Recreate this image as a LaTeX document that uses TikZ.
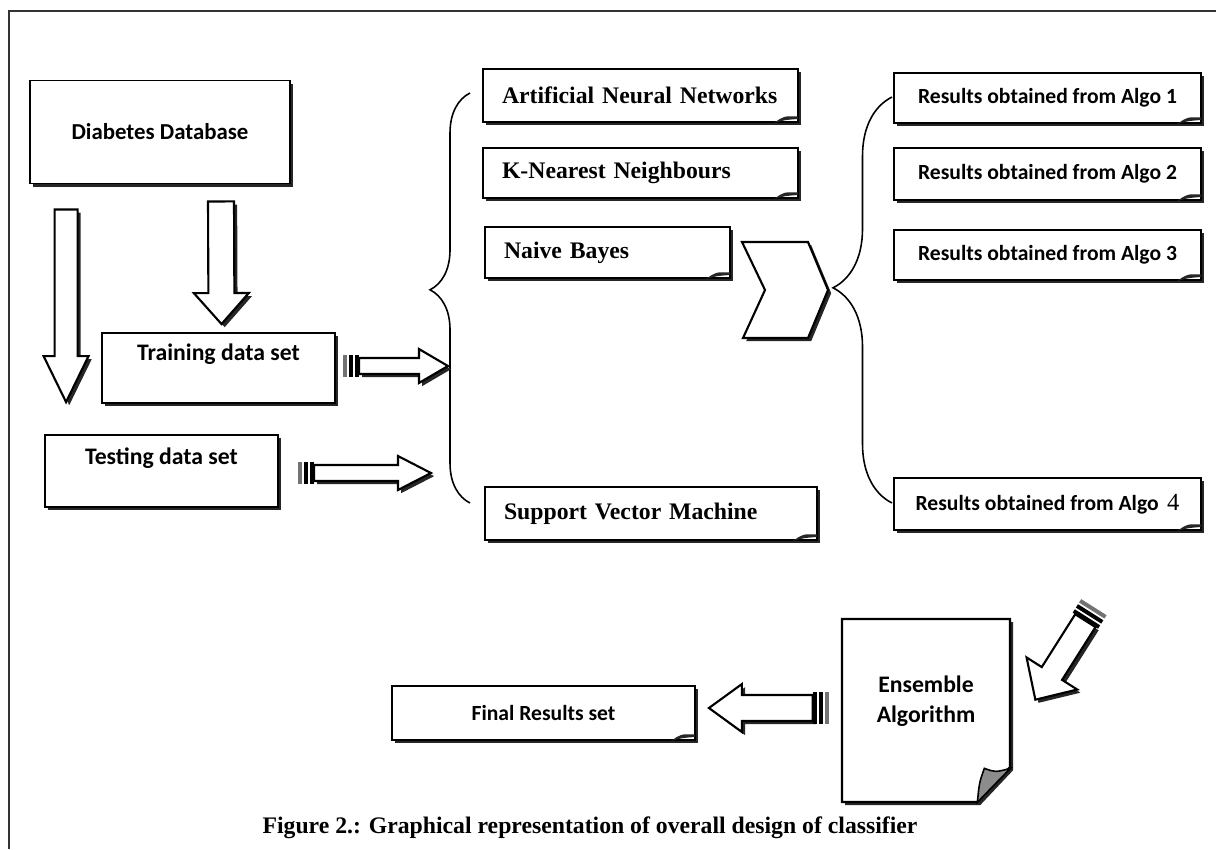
\documentclass[tikz,border=0pt]{standalone}
\usepackage{fontspec}
\setmainfont{Liberation Serif}
\newfontfamily\calibri{Carlito}
\usetikzlibrary{calc}
\usetikzlibrary{shadows}
\usetikzlibrary{decorations.pathreplacing}

\tikzset{
 shad/.style={drop shadow={shadow xshift=1.8pt, shadow yshift=-1.8pt, fill=black!85, opacity=1}},
 cbox/.style={draw, line width=1.1pt, fill=white, shad, font=\calibri\bfseries\fontsize{13.5}{16}\selectfont},
 algobox/.style={draw, line width=1.1pt, fill=white, shad, inner xsep=0.38cm, align=left, font=\bfseries\fontsize{13.5}{16}\selectfont},
 resbox/.style={cbox, font=\calibri\bfseries\fontsize{12.3}{15}\selectfont, minimum width=6.15cm},
 pagebox/.style={align=center, font=\calibri\bfseries\fontsize{13.5}{17}\selectfont},
 arrowbody/.style={draw, line width=1.2pt, fill=white, shad},
 curly/.style={decorate, decoration={brace, amplitude=#1, aspect=0.52}, line width=0.9pt},
}

% hollow block arrow: tail, tip, shaft half width, head half width, head length
\newcommand{\blockarrow}[5]{%
 \coordinate (ba-c) at ($(#2)!#5!(#1)$);
 \filldraw[arrowbody] ($(#1)!#3!90:(#2)$) -- ($(ba-c)!#3!90:(#2)$) -- ($(ba-c)!#4!90:(#2)$) -- (#2)
  -- ($(ba-c)!#4!-90:(#2)$) -- ($(ba-c)!#3!-90:(#2)$) -- ($(#1)!#3!-90:(#2)$) -- cycle;
}
% bands behind the tail of an arrow
\newcommand{\plugend}[3]{%
 \foreach \d/\c in {0.04cm/black, 0.16cm/black, 0.28cm/black!55} {
  \coordinate (pl) at ($(#1)!-\d!(#2)$);
  \draw[\c, line width=0.08cm] ($(pl)!#3!90:(#2)$) -- ($(pl)!#3!-90:(#2)$);
 }
}
% small folded corner
\newcommand{\dogear}[1]{%
 \fill[black!85] ([xshift=-0.5cm]#1.south east) .. controls ([xshift=-0.3cm,yshift=0.14cm]#1.south east) .. ([xshift=-0.02cm,yshift=0.13cm]#1.south east)
  -- ([xshift=-0.02cm,yshift=0.08cm]#1.south east) .. controls ([xshift=-0.28cm,yshift=0.06cm]#1.south east) .. ([xshift=-0.5cm]#1.south east) -- cycle;
}

\begin{document}
\begin{tikzpicture}[x=0.02cm, y=-0.02cm]
\useasboundingbox (0,0) rectangle (1216,849);
\draw[line width=1pt, black!80] (9,849) -- (9,11) -- (1216,11);

% data sets
\node[cbox, minimum width=5.2cm, minimum height=2.06cm, font=\calibri\bfseries\fontsize{13}{16}\selectfont] (db) at (160,132) {Diabetes Database};
\node[cbox, minimum width=4.66cm, minimum height=1.4cm, text depth=0.65cm] (train) at (218.5,368) {Training data set};
\node[cbox, minimum width=4.66cm, minimum height=1.44cm, text depth=0.6cm] (test) at (161.5,471) {Testing data set};

% classifiers
\node[algobox, text width=5.54cm, minimum height=1.06cm] (ann) at (640.5,95.5) {Artificial Neural Networks};
\node[algobox, text width=5.54cm, minimum height=1.0cm] (knn) at (640.5,173) {K-Nearest Neighbours};
\node[algobox, text width=4.14cm, minimum height=1.02cm] (nb) at (607.5,252.5) {Naive Bayes};
\node[algobox, text width=5.88cm, minimum height=1.06cm] (svm) at (651,513.5) {Support Vector Machine};

% results
\node[resbox, minimum height=1.0cm] (res1) at (1047.5,98) {Results obtained from Algo 1};
\node[resbox, minimum height=1.04cm] (res2) at (1047.5,174) {Results obtained from Algo 2};
\node[resbox, minimum height=1.0cm] (res3) at (1047.5,255) {Results obtained from Algo 3};
\node[resbox, minimum height=1.04cm] (res4) at (1047.5,504) {Results obtained from Algo\,~{\rmfamily\mdseries\fontsize{14}{16}\selectfont 4}};
\node[resbox, minimum width=6.06cm, minimum height=1.08cm] (fin) at (543.5,713) {Final Results set};

\foreach \n in {ann, knn, nb, svm, res1, res2, res3, res4, fin} {\dogear{\n}}

% ensemble page
\filldraw[line width=1.2pt, fill=white, shad] (842,619) -- (1010,619) -- (1010,767) -- (977,802) -- (842,802) -- cycle;
\node[pagebox, minimum width=3.36cm, minimum height=3.66cm, text depth=0.45cm] (ens) at (926,710.5) {Ensemble\\Algorithm};
\filldraw[fill=black!45, line width=0.9pt] ([xshift=-0.66cm]ens.south east) .. controls ([xshift=-0.62cm,yshift=0.4cm]ens.south east) .. ([xshift=-0.52cm,yshift=0.68cm]ens.south east)
 .. controls ([xshift=-0.3cm,yshift=0.6cm]ens.south east) .. ([yshift=0.68cm]ens.south east) -- cycle;

% chevron and braces
\filldraw[arrowbody] (742,242) -- (808,242) -- (828,290) -- (808,338) -- (743,338) -- (765,290) -- cycle;
\draw[curly=0.8cm] (470,503) -- (470,93);
\draw[curly=1.18cm, decoration={aspect=0.53}] (892,503) -- (892,97);

% block arrows
\coordinate (d1a) at ($(db.south west)+(37,25)$);
\coordinate (d1b) at ($(test.north west)+(22,-32)$);
\blockarrow{d1a}{d1b}{0.23cm}{0.45cm}{0.92cm}
\coordinate (d2a) at ($(db.south)+(61,17)$);
\coordinate (d2b) at ($(train.north)+(3,-8)$);
\blockarrow{d2a}{d2b}{0.26cm}{0.55cm}{0.62cm}

\coordinate (tra) at ($(train.east)+(23,-2)$);
\coordinate (trb) at ($(train.east)+(112,-2)$);
\blockarrow{tra}{trb}{0.16cm}{0.34cm}{0.58cm}
\plugend{tra}{trb}{0.22cm}
\coordinate (tea) at ($(test.east)+(35,2)$);
\coordinate (teb) at ($(test.east)+(152,2)$);
\blockarrow{tea}{teb}{0.16cm}{0.34cm}{0.66cm}
\plugend{tea}{teb}{0.22cm}

\coordinate (dga) at ($(ens.north east)+(75,2)$);
\coordinate (dgb) at ($(ens.north east)+(25,81)$);
\blockarrow{dga}{dgb}{0.24cm}{0.6cm}{0.62cm}
\plugend{dga}{dgb}{0.3cm}
\coordinate (ena) at ($(ens.west)+(-29,-2.5)$);
\coordinate (enb) at ($(fin.east)+(13,-5)$);
\blockarrow{ena}{enb}{0.26cm}{0.48cm}{0.66cm}
\plugend{ena}{enb}{0.32cm}

\node[font=\bfseries\fontsize{13.5}{16}\selectfont] (cap) at (590,828) {Figure 2.: Graphical representation of overall design of classifier};
\end{tikzpicture}
\end{document}
